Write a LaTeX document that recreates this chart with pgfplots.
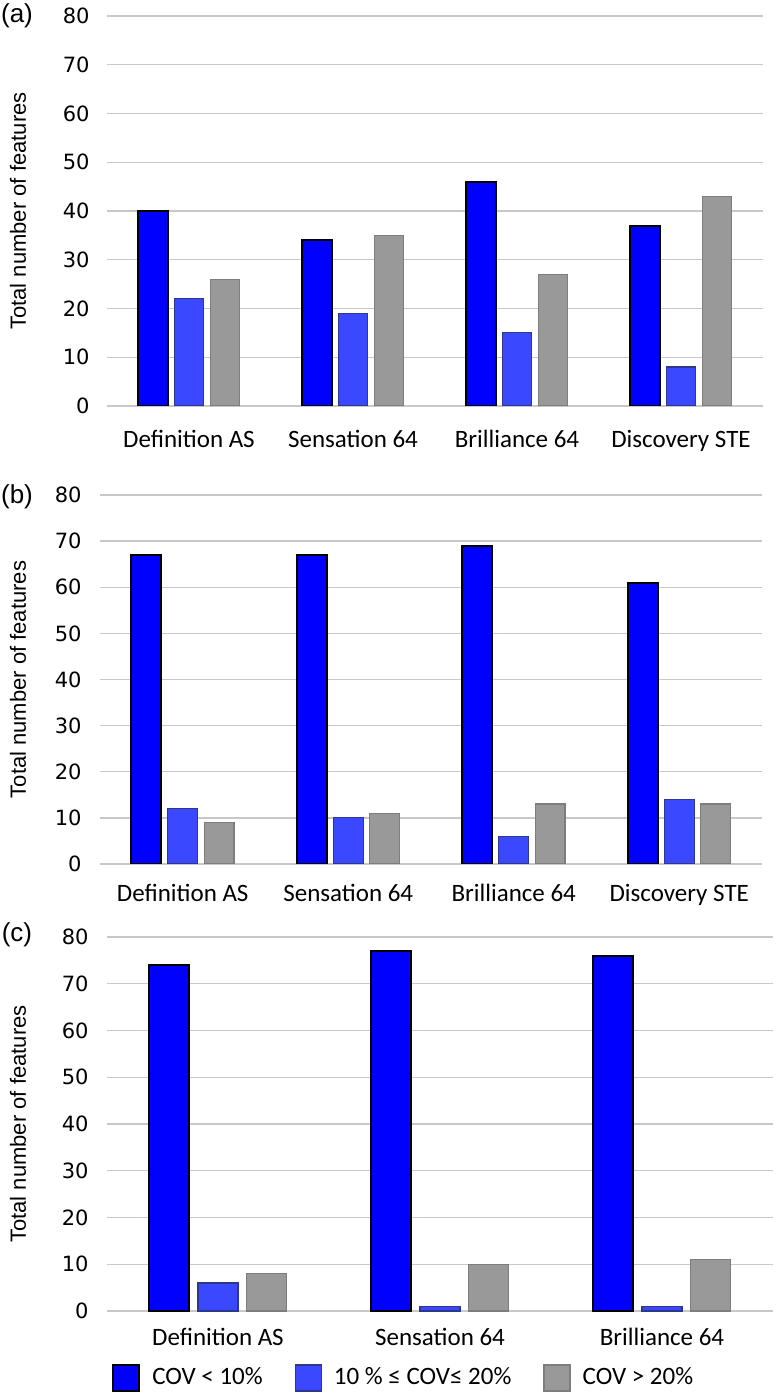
\documentclass[border=0pt]{standalone}
\usepackage{fontspec}
\setmainfont{Carlito}
\newfontfamily\tickfont{DejaVu Sans}
\newfontfamily\labfont{Liberation Sans}
\usepackage{pgfplots}
\usepackage{pgfplotstable}
\pgfplotsset{compat=1.18}

\definecolor{cdark}{RGB}{0,0,255}
\definecolor{clight}{RGB}{58,72,255}
\definecolor{clightedge}{RGB}{45,55,140}
\definecolor{cgray}{RGB}{153,153,153}
\definecolor{cgrayedge}{RGB}{125,125,125}
\definecolor{cgrid}{RGB}{200,200,200}

% panel (a)
\pgfplotstableread{
x a b c
0 40 22 26
1 34 19 35
2 46 15 27
3 37 8 43
}\tabA
% panel (b)
\pgfplotstableread{
x a b c
0 67 12 9
1 67 10 11
2 69 6 13
3 61 14 13
}\tabB
% panel (c)
\pgfplotstableread{
x a b c
0 74 6 8
1 77 1 10
2 76 1 11
}\tabC

\pgfplotsset{
  panel/.style={
    scale only axis,
    ybar, bar width=0.18,
    ymin=0, ymax=80, ytick={0,10,...,80},
    ymajorgrids, grid style={cgrid, line width=0.7pt},
    axis line style={draw=none},
    major tick length=0pt,
    xtick=data,
    /pgf/number format/assume math mode=true,
    yticklabel style={font=\tickfont\fontsize{10.5}{12}\selectfont, anchor=east, inner sep=0pt},
    xticklabel style={font=\fontsize{12.5}{15}\selectfont, anchor=north, inner sep=0pt},
    ylabel={Total number of features},
    ylabel style={font=\labfont\fontsize{11}{13}\selectfont, at={(axis description cs:0,0.5)}, anchor=center},
  },
  sdark/.style={fill=cdark, draw=black, line width=1pt, bar shift=-0.22},
  slight/.style={fill=clight, draw=clightedge, line width=0.6pt, bar shift=0},
  sgray/.style={fill=cgray, draw=cgrayedge, line width=0.6pt, bar shift=0.22},
}

\begin{document}
\begin{tikzpicture}
\useasboundingbox (0,0) rectangle (388pt,698pt);

\begin{axis}[panel, at={(53.5pt,495pt)}, anchor=south west,
  width=328pt, height=195pt, xmin=-0.5, xmax=3.5,
  xticklabels={Definition AS, Sensation 64, Brilliance 64, Discovery STE},
  yticklabel style={xshift=-8.5pt}, xticklabel style={yshift=-12pt},
  ylabel style={yshift=44.5pt}]
  \addplot[sdark] table[x=x, y=a] {\tabA};
  \addplot[slight] table[x=x, y=b] {\tabA};
  \addplot[sgray] table[x=x, y=c] {\tabA};
\end{axis}

\begin{axis}[panel, at={(50pt,266pt)}, anchor=south west,
  width=331pt, height=184.5pt, xmin=-0.5, xmax=3.5,
  xticklabels={Definition AS, Sensation 64, Brilliance 64, Discovery STE},
  yticklabel style={xshift=-9pt}, xticklabel style={yshift=-10pt},
  ylabel style={yshift=41pt}]
  \addplot[sdark] table[x=x, y=a] {\tabB};
  \addplot[slight] table[x=x, y=b] {\tabB};
  \addplot[sgray] table[x=x, y=c] {\tabB};
\end{axis}

\begin{axis}[panel, at={(53.5pt,42.5pt)}, anchor=south west,
  width=333pt, height=187pt, xmin=-0.5, xmax=2.5, bar width=0.18,
  xticklabels={Definition AS, Sensation 64, Brilliance 64},
  yticklabel style={xshift=-9pt}, xticklabel style={yshift=-8.5pt},
  ylabel style={yshift=44.5pt},
  legend image code/.code={\draw[#1] (0pt,-6.5pt) rectangle (13pt,6.5pt);},
  legend style={draw=none, fill=none, legend columns=-1,
    at={(axis description cs:0.447,-0.179)}, anchor=center,
    font=\fontsize{12.5}{15}\selectfont,
    /tikz/every odd column/.append style={column sep=4pt},
    /tikz/every even column/.append style={column sep=14pt}}]
  \addplot[sdark] table[x=x, y=a] {\tabC};
  \addplot[slight] table[x=x, y=b] {\tabC};
  \addplot[sgray] table[x=x, y=c] {\tabC};
  \legend{COV < 10\%, 10 \% ≤ COV≤ 20\%, COV > 20\%}
\end{axis}

\node[font=\labfont\fontsize{13}{15}\selectfont] at (8.5pt,690pt) {(a)};
\node[font=\labfont\fontsize{13}{15}\selectfont] at (8.5pt,449.5pt) {(b)};
\node[font=\labfont\fontsize{13}{15}\selectfont] at (8.5pt,230.5pt) {(c)};
\end{tikzpicture}
\end{document}
